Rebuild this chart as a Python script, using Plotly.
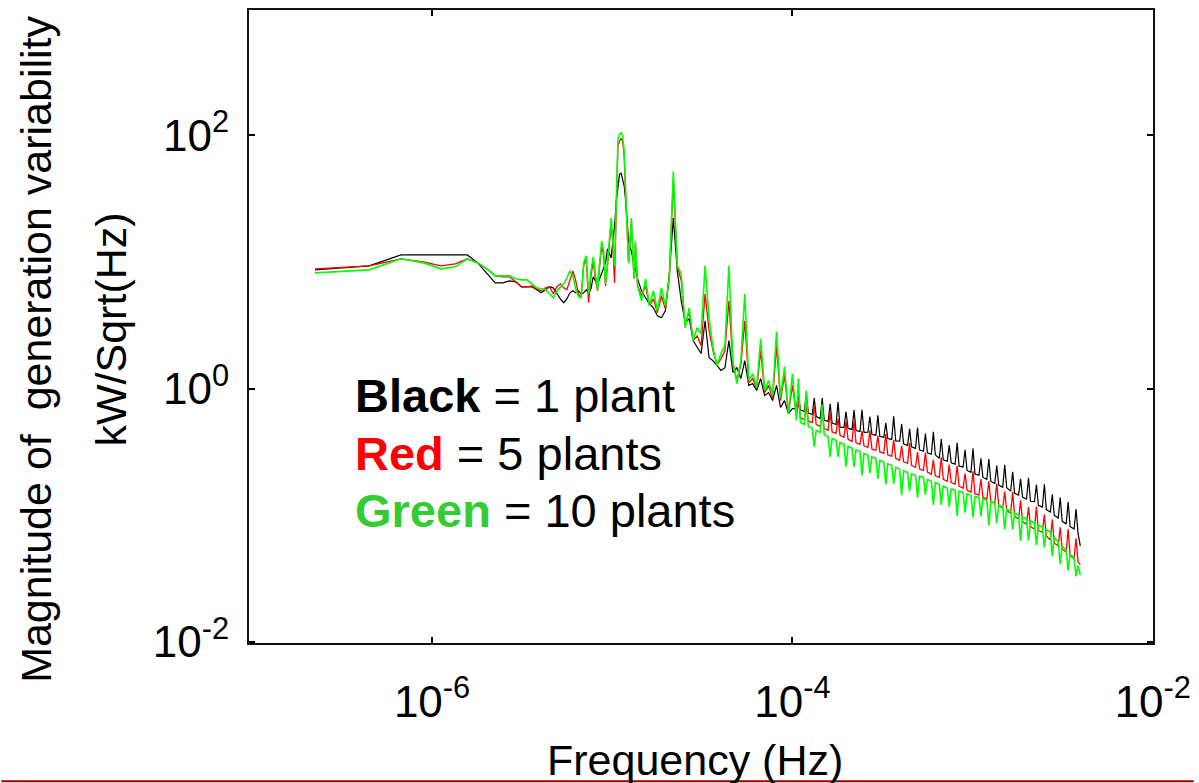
import plotly.graph_objects as go

# ---------------- data ----------------
freq_hz = [
    # 1e-7 .. 1.35e-5
    2.24e-7, 4.48e-7, 6.72e-7, 8.96e-7, 1.120e-6, 1.344e-6, 1.568e-6, 1.792e-6, 2.016e-6, 2.240e-6,
    2.464e-6, 2.688e-6, 2.912e-6, 3.136e-6, 3.360e-6, 3.584e-6, 3.808e-6, 4.032e-6, 4.256e-6, 4.480e-6,
    4.704e-6, 4.928e-6, 5.152e-6, 5.376e-6, 5.600e-6, 5.824e-6, 6.048e-6, 6.272e-6, 6.496e-6, 6.720e-6,
    6.94e-6, 7.17e-6, 7.39e-6, 7.62e-6, 7.84e-6, 8.06e-6, 8.29e-6, 8.51e-6, 8.74e-6, 8.96e-6,
    9.18e-6, 9.41e-6, 9.63e-6, 9.86e-6, 1.008e-5, 1.030e-5, 1.053e-5, 1.075e-5, 1.098e-5, 1.120e-5,
    1.142e-5, 1.165e-5, 1.187e-5, 1.210e-5, 1.232e-5, 1.254e-5, 1.277e-5, 1.299e-5, 1.322e-5, 1.344e-5,
    # 1.4e-5 .. 1e-4
    1.382e-5, 1.454e-5, 1.530e-5, 1.609e-5, 1.693e-5, 1.781e-5, 1.874e-5, 1.971e-5, 2.074e-5, 2.182e-5,
    2.296e-5, 2.415e-5, 2.541e-5, 2.673e-5, 2.812e-5, 2.958e-5, 3.112e-5, 3.274e-5, 3.445e-5, 3.624e-5,
    3.813e-5, 4.011e-5, 4.220e-5, 4.440e-5, 4.671e-5, 4.914e-5, 5.170e-5, 5.439e-5, 5.722e-5, 6.020e-5,
    6.333e-5, 6.663e-5, 7.010e-5, 7.374e-5, 7.758e-5, 8.162e-5, 8.587e-5, 9.034e-5, 9.506e-5, 1.000e-4,
    # 1e-4 .. 4e-3
    1.052e-4, 1.079e-4, 1.107e-4, 1.164e-4, 1.194e-4, 1.225e-4, 1.288e-4, 1.321e-4, 1.355e-4,
    1.426e-4, 1.463e-4, 1.500e-4, 1.578e-4, 1.619e-4, 1.660e-4, 1.746e-4, 1.791e-4, 1.837e-4,
    1.932e-4, 1.982e-4, 2.036e-4, 2.142e-4, 2.197e-4, 2.253e-4, 2.371e-4, 2.432e-4, 2.494e-4,
    2.624e-4, 2.691e-4, 2.760e-4, 2.904e-4, 2.979e-4, 3.055e-4, 3.214e-4, 3.297e-4, 3.381e-4,
    3.556e-4, 3.647e-4, 3.741e-4, 3.936e-4, 4.037e-4, 4.140e-4, 4.356e-4, 4.468e-4, 4.582e-4,
    4.820e-4, 4.944e-4, 5.070e-4, 5.333e-4, 5.470e-4, 5.610e-4, 5.902e-4, 6.054e-4, 6.209e-4,
    6.531e-4, 6.699e-4, 6.871e-4, 7.228e-4, 7.414e-4, 7.603e-4, 7.998e-4, 8.204e-4, 8.414e-4,
    8.851e-4, 9.079e-4, 9.311e-4, 9.795e-4, 1.0047e-3, 1.030e-3, 1.084e-3, 1.112e-3, 1.140e-3,
    1.199e-3, 1.230e-3, 1.262e-3, 1.327e-3, 1.361e-3, 1.396e-3, 1.469e-3, 1.507e-3, 1.545e-3,
    1.626e-3, 1.668e-3, 1.710e-3, 1.799e-3, 1.845e-3, 1.892e-3, 1.991e-3, 2.042e-3, 2.094e-3,
    2.203e-3, 2.260e-3, 2.317e-3, 2.438e-3, 2.501e-3, 2.564e-3, 2.698e-3, 2.767e-3, 2.838e-3,
    2.985e-3, 3.062e-3, 3.140e-3, 3.304e-3, 3.389e-3, 3.475e-3, 3.656e-3, 3.750e-3, 3.846e-3,
    3.96e-3,
]

black_1_plant = [
    8.65, 9.30, 11.35, 11.35, 11.35, 11.35, 11.35, 9.82, 8.19, 6.83,
    6.83, 7.08, 6.96, 6.36, 6.36, 6.36, 6.02, 5.70, 6.02, 6.36,
    6.24, 5.60, 5.11, 4.76, 5.11, 5.70, 5.91, 5.70, 5.91, 5.60,
    5.70, 6.02, 5.70, 6.13, 7.62, 7.09, 6.71, 7.35, 8.19, 8.81,
    9.82, 12.7, 11.8, 10.75, 14.6, 19.2, 30.2, 39.7, 49.3, 50.2,
    45.0, 39.7, 30.2, 19.2, 14.6, 12.9, 12.2, 10.75, 9.82, 8.81,
    7.35, 5.91, 5.21, 4.67, 4.34, 3.76, 3.62, 4.11, 8.04, 22.2,
    8.50, 4.93, 3.31, 3.56, 2.39, 2.10, 1.89, 3.43, 1.75, 1.66,
    1.52, 1.39, 1.46, 2.39, 1.34, 1.46, 1.20, 1.66, 1.06, 1.095,
    0.965, 1.20, 0.881, 0.930, 0.804, 1.06, 0.709, 0.804, 0.636, 0.696,
    0.696, 0.905, 0.677, 0.659, 0.923, 0.641, 0.624, 0.842, 0.602,
    0.581, 0.842, 0.565, 0.550, 0.759, 0.535, 0.521, 0.782, 0.495,
    0.494, 0.657, 0.485, 0.476, 0.676, 0.467, 0.459, 0.679, 0.451,
    0.452, 0.602, 0.435, 0.427, 0.615, 0.419, 0.412, 0.536, 0.404,
    0.397, 0.603, 0.386, 0.385, 0.526, 0.366, 0.356, 0.481, 0.347,
    0.3375, 0.493, 0.329, 0.320, 0.442, 0.311, 0.303, 0.455, 0.300,
    0.2816, 0.400, 0.274, 0.267, 0.358, 0.260, 0.253, 0.374, 0.244,
    0.240, 0.329, 0.226, 0.218, 0.338, 0.212, 0.207, 0.282, 0.199,
    0.192, 0.278, 0.185, 0.179, 0.247, 0.173, 0.1665, 0.250, 0.165,
    0.155, 0.220, 0.149, 0.144, 0.194, 0.139, 0.134, 0.198, 0.129,
    0.128, 0.175, 0.120, 0.116, 0.176, 0.111, 0.106, 0.146, 0.100,
    0.095, 0.138, 0.090, 0.0852, 0.128, 0.0815, 0.0779, 0.112, 0.072,
    0.0573,
]

red_5_plants = [
    8.81, 9.30, 10.57, 10.0, 9.30, 9.64, 10.57, 9.82, 8.81, 7.76,
    7.62, 7.62, 6.96, 6.36, 6.36, 6.47, 6.13, 5.91, 6.24, 6.36,
    5.60, 6.36, 6.71, 6.24, 6.02, 7.08, 8.49, 7.08, 5.60, 5.21,
    9.30, 10.56, 4.76, 7.76, 10.2, 7.35, 5.91, 9.30, 13.4, 11.15,
    6.47, 9.30, 14.6, 20.3, 13.4, 6.83, 27.6, 81.9, 89.7, 94.7,
    89.7, 68.3, 33.1, 16.9, 9.82, 14.1, 21.0, 11.8, 7.35, 14.1,
    6.47, 5.40, 6.47, 4.50, 5.11, 3.97, 5.40, 4.26, 7.48, 45.0,
    9.30, 7.09, 3.13, 4.11, 2.39, 2.61, 2.18, 5.60, 2.86, 1.99,
    1.52, 1.72, 1.99, 4.93, 1.60, 1.16, 1.52, 3.43, 1.11, 1.20,
    1.00, 1.99, 0.930, 1.06, 0.834, 2.18, 0.804, 1.27, 0.636, 1.06,
    0.613, 0.797, 0.591, 0.570, 0.713, 0.555, 0.540, 0.729, 0.521,
    0.503, 0.644, 0.485, 0.467, 0.654, 0.455, 0.443, 0.576, 0.427,
    0.412, 0.548, 0.397, 0.383, 0.555, 0.373, 0.363, 0.465, 0.353,
    0.344, 0.468, 0.334, 0.325, 0.423, 0.316, 0.308, 0.437, 0.300,
    0.292, 0.394, 0.282, 0.272, 0.354, 0.264, 0.257, 0.373, 0.248,
    0.239, 0.315, 0.233, 0.2265, 0.313, 0.219, 0.211, 0.274, 0.205,
    0.1996, 0.287, 0.192, 0.1856, 0.251, 0.181, 0.176, 0.246, 0.170,
    0.1636, 0.213, 0.158, 0.152, 0.222, 0.148, 0.144, 0.193, 0.139,
    0.134, 0.185, 0.129, 0.125, 0.178, 0.119, 0.1139, 0.154, 0.109,
    0.104, 0.154, 0.0985, 0.0933, 0.131, 0.0892, 0.0852, 0.116, 0.0815,
    0.0779, 0.117, 0.0758, 0.0738, 0.102, 0.0686, 0.0638, 0.0925, 0.0605,
    0.0573, 0.0802, 0.0542, 0.0513, 0.078, 0.0482, 0.0453, 0.0657, 0.0429,
    0.0406,
]

green_10_plants = [
    8.19, 8.65, 10.57, 9.82, 8.81, 9.14, 10.57, 9.82, 8.81, 7.76,
    7.76, 7.76, 7.35, 7.21, 7.21, 6.71, 6.24, 6.13, 6.02, 5.60,
    5.21, 5.91, 6.36, 6.71, 7.48, 8.49, 7.76, 6.13, 5.30, 5.21,
    9.82, 11.15, 5.60, 8.50, 10.95, 7.76, 6.02, 9.82, 14.6, 12.2,
    6.71, 9.82, 16.0, 22.2, 14.6, 9.30, 30.2, 93.0, 101.8, 105.6,
    98.2, 74.8, 36.2, 17.5, 9.82, 14.6, 22.2, 12.2, 7.48, 14.6,
    6.47, 4.93, 7.35, 4.50, 5.91, 4.11, 6.24, 4.50, 7.48, 52.0,
    9.30, 8.04, 3.02, 4.34, 2.39, 3.02, 2.71, 9.30, 3.62, 2.10,
    1.52, 1.89, 2.18, 9.30, 1.66, 1.095, 1.66, 5.60, 1.16, 1.31,
    1.02, 2.48, 0.965, 1.16, 0.881, 2.81, 0.849, 1.49, 0.636, 1.31,
    0.560, 1.199, 0.540, 0.521, 0.964, 0.503, 0.485, 0.346, 0.468,
    0.451, 0.748, 0.435, 0.419, 0.289, 0.404, 0.390, 0.289, 0.376,
    0.363, 0.242, 0.350, 0.3375, 0.241, 0.329, 0.320, 0.206, 0.308,
    0.297, 0.215, 0.289, 0.2816, 0.194, 0.272, 0.262, 0.175, 0.255,
    0.248, 0.177, 0.239, 0.231, 0.144, 0.224, 0.218, 0.154, 0.212,
    0.207, 0.138, 0.203, 0.1996, 0.145, 0.192, 0.1856, 0.120, 0.181,
    0.176, 0.121, 0.170, 0.1636, 0.117, 0.161, 0.158, 0.099, 0.155,
    0.152, 0.105, 0.148, 0.144, 0.096, 0.141, 0.139, 0.098, 0.135,
    0.1316, 0.0833, 0.128, 0.125, 0.0862, 0.120, 0.116, 0.0773, 0.112,
    0.1079, 0.0771, 0.104, 0.1003, 0.0627, 0.0967, 0.0933, 0.063, 0.090,
    0.0868, 0.0579, 0.0837, 0.0808, 0.0557, 0.0772, 0.0738, 0.0476, 0.0674,
    0.0616, 0.0411, 0.0572, 0.0532, 0.0367, 0.0495, 0.0461, 0.0329, 0.040,
    0.0338,
]

x_tick_vals = [1e-6, 1e-4, 1e-2]
x_tick_text = ["10<sup>-6</sup>", "10<sup>-4</sup>", "10<sup>-2</sup>"]
y_tick_vals = [1e-2, 1e0, 1e2]
y_tick_text = ["10<sup>-2</sup>", "10<sup>0</sup>", "10<sup>2</sup>"]

legend_lines = [
    ("Black", "#000000", " = 1 plant"),
    ("Red", "#ff0000", " = 5 plants"),
    ("Green", "#33cc33", " = 10 plants"),
]

assert len(freq_hz) == len(black_1_plant) == len(red_5_plants) == len(green_10_plants), (
    len(freq_hz), len(black_1_plant), len(red_5_plants), len(green_10_plants))

# ---------------- figure ----------------
FONT = "Liberation Sans, Arial, Helvetica, sans-serif"
fig = go.Figure()
for vals, color, width in [
    (black_1_plant, "#000000", 1.2),
    (red_5_plants, "#ff0000", 1.3),
    (green_10_plants, "#00ff00", 1.6),
]:
    fig.add_trace(go.Scatter(x=freq_hz, y=vals, mode="lines",
                             line=dict(color=color, width=width),
                             showlegend=False, hoverinfo="skip"))

axis_common = dict(
    type="log", showgrid=False, zeroline=False,
    showline=True, linecolor="#111111", linewidth=2, mirror="ticks",
    ticks="inside", ticklen=6, tickwidth=2, tickcolor="#000000",
    tickfont=dict(family=FONT, size=44, color="#000000"),
)

fig.update_layout(
    width=1199, height=783,
    margin=dict(l=249, r=41, t=8, b=140),
    paper_bgcolor="white", plot_bgcolor="white",
    font=dict(family=FONT, color="#000000"),
    xaxis=dict(range=[-7.016, -1.999], tickvals=x_tick_vals, ticktext=x_tick_text,
               ticklabelstandoff=19, **axis_common),
    yaxis=dict(range=[-2.008, 2.988], tickvals=y_tick_vals, ticktext=y_tick_text,
               ticklabelstandoff=9, **axis_common),
)

def px_x(px):
    return (px - 249) / 909.0

def px_y(py):
    return (643 - py) / 634.5

annotations = [
    dict(text="Frequency (Hz)", x=px_x(697), y=px_y(760), xanchor="center", yanchor="middle",
         font=dict(size=43, family=FONT, color="#000000")),
    dict(text="Magnitude of \u00a0generation variability", x=px_x(35), y=px_y(349),
         textangle=-90, xanchor="center", yanchor="middle",
         font=dict(size=43, family=FONT, color="#000000")),
    dict(text="kW/Sqrt(Hz)", x=px_x(110), y=px_y(329),
         textangle=-90, xanchor="center", yanchor="middle",
         font=dict(size=43, family=FONT, color="#000000")),
]
for (word, color, rest), center_py in zip(legend_lines, [395, 453, 510]):
    annotations.append(dict(
        text=f"<span style='color:{color}'><b>{word}</b></span>{rest}",
        x=px_x(354), y=px_y(center_py), xanchor="left", yanchor="middle", align="left",
        font=dict(size=47, family=FONT, color="#000000")))
for a in annotations:
    a.update(xref="paper", yref="paper", showarrow=False)
fig.update_layout(annotations=annotations)

fig.add_shape(type="line", xref="paper", yref="paper",
              x0=px_x(0), x1=px_x(1199), y0=px_y(781.5), y1=px_y(781.5),
              line=dict(color="#9a0000", width=2), layer="above")

fig.write_html("out.html")
